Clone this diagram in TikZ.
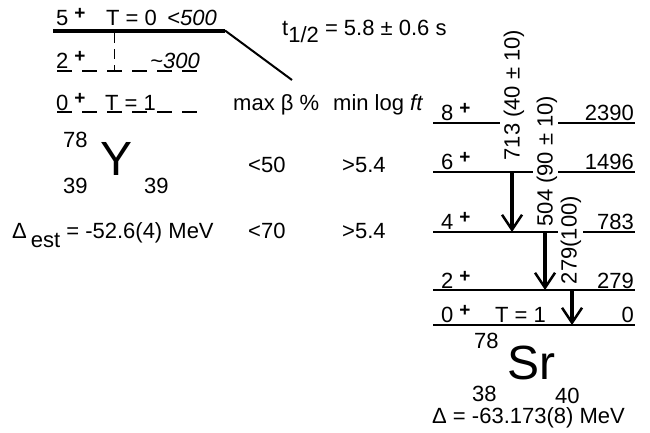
\documentclass[tikz,border=0pt]{standalone}
\usepackage{fontspec}
\setmainfont{Liberation Sans}
\usetikzlibrary{arrows.meta}
\newcommand\pp{\hspace{6pt}\raisebox{6pt}{\fontsize{19}{19}\selectfont\bfseries +}}
\begin{document}
\begin{tikzpicture}[x=1pt,y=-1pt,
  txt/.style={inner sep=0pt, anchor=base west, font=\fontsize{22}{22}\selectfont},
  txtr/.style={txt, anchor=base east},
  big/.style={inner sep=0pt, anchor=base west, font=\fontsize{48}{48}\selectfont},
  lvl/.style={line width=1.2pt},
  dlvl/.style={line width=1.2pt, dash pattern=on 15pt off 10pt},
  gam/.style={line width=3.5pt, -{Straight Barb[length=15pt,width=20pt,line width=2.5pt]}},
  glab/.style={inner sep=0pt, rotate=90, font=\fontsize{22}{22}\selectfont}]
\useasboundingbox (0,0) rectangle (650,432);

% ---- parent 78Y ----
\coordinate (y5l) at (53,30.5);
\coordinate (y5r) at (225,30.5);
\coordinate (ydiag) at (292,80);
\draw[line width=4pt] (y5l) -- (y5r);
\draw[line width=2pt] (y5r) -- (ydiag);
\coordinate (yv1) at (114,33);
\coordinate (yv2) at (114,71);
\draw[line width=1pt, dash pattern=on 10pt off 6pt] (yv1) -- (yv2);
\coordinate (y2l) at (57,71);
\coordinate (y2r) at (197,71);
\draw[dlvl] (y2l) -- (y2r);
\coordinate (y0l) at (57,112);
\coordinate (y0r) at (197,112);
\draw[dlvl] (y0l) -- (y0r);

\node[txt] (y5j) at (56,25) {5\pp};
\node[txt] (y5t) at (106,25) {T = 0};
\node[txt] (y5e) at (167,25) {\itshape <500};
\node[txt] (y2j) at (56,68) {2\pp};
\node[txt] (y2e) at (150,68) {\itshape {\char"7E}300};
\node[txt] (y0j) at (56,110) {0\pp};
\node[txt] (y0t) at (105,110) {T = 1};

\node[txt] (thalf) at (282,35) {t\raisebox{-7pt}{1/2} = 5.8 ± 0.6 s};

\node[txt] (yA) at (63,147) {78};
\node[big] (yY) at (100,175) {Y};
\node[txt] (yZ) at (63,193) {39};
\node[txt] (yN) at (144,193) {39};
\node[txt] (ydel) at (12,238) {Δ\hspace{4pt}\raisebox{-9pt}{est} = -52.6(4) MeV};

\node[txt] (hb) at (233,110) {max β \%};
\node[txt] (hf) at (333,110) {min log \textit{ft}};
\node[txt] (b1) at (248,172) {<50};
\node[txt] (f1) at (342,172) {>5.4};
\node[txt] (b2) at (248,238) {<70};
\node[txt] (f2) at (342,238) {>5.4};

% ---- daughter 78Sr ----
\coordinate (s8a) at (433,123); \coordinate (s8b) at (500,123);
\coordinate (s8c) at (558,123); \coordinate (s8d) at (635,123);
\draw[lvl] (s8a) -- (s8b); \draw[lvl] (s8c) -- (s8d);
\coordinate (s6a) at (433,172); \coordinate (s6b) at (533,172);
\coordinate (s6c) at (558,172); \coordinate (s6d) at (635,172);
\draw[lvl] (s6a) -- (s6b); \draw[lvl] (s6c) -- (s6d);
\coordinate (s4a) at (433,232); \coordinate (s4b) at (558,232);
\coordinate (s4c) at (583,232); \coordinate (s4d) at (635,232);
\draw[lvl] (s4a) -- (s4b); \draw[lvl] (s4c) -- (s4d);
\coordinate (s2a) at (433,290); \coordinate (s2d) at (635,290);
\draw[lvl] (s2a) -- (s2d);
\coordinate (s0a) at (433,325); \coordinate (s0d) at (635,325);
\draw[lvl] (s0a) -- (s0d);

\node[txt] (l8) at (441,120) {8\pp};
\node[txt] (l6) at (441,169) {6\pp};
\node[txt] (l4) at (441,229) {4\pp};
\node[txt] (l2) at (441,288) {2\pp};
\node[txt] (l0) at (441,322) {0\pp};
\node[txt] (l0t) at (495,322) {T = 1};
\node[txtr] (e8) at (634,120) {2390};
\node[txtr] (e6) at (634,169) {1496};
\node[txtr] (e4) at (634,229) {783};
\node[txtr] (e2) at (634,288) {279};
\node[txtr] (e0) at (634,322) {0};

\coordinate (g1s) at (512,172); \coordinate (g1e) at (512,232);
\coordinate (g2s) at (545,232); \coordinate (g2e) at (545,290);
\coordinate (g3s) at (572,290); \coordinate (g3e) at (572,325);
\draw[gam] (g1s) -- (g1e);
\draw[gam] (g2s) -- (g2e);
\draw[gam] (g3s) -- (g3e);
\node[glab] (g1l) at (514,95) {713 (40 ± 10)};
\node[glab] (g2l) at (547,161) {504 (90 ± 10)};
\node[glab] (g3l) at (571,240) {279(100)};

\node[txt] (sA) at (474,348) {78};
\node[big] (sS) at (507,379) {Sr};
\node[txt] (sZ) at (472,401) {38};
\node[txt] (sN) at (555,403) {40};
\node[txt] (sdel) at (432,423) {Δ = -63.173(8) MeV};
\end{tikzpicture}
\end{document}
